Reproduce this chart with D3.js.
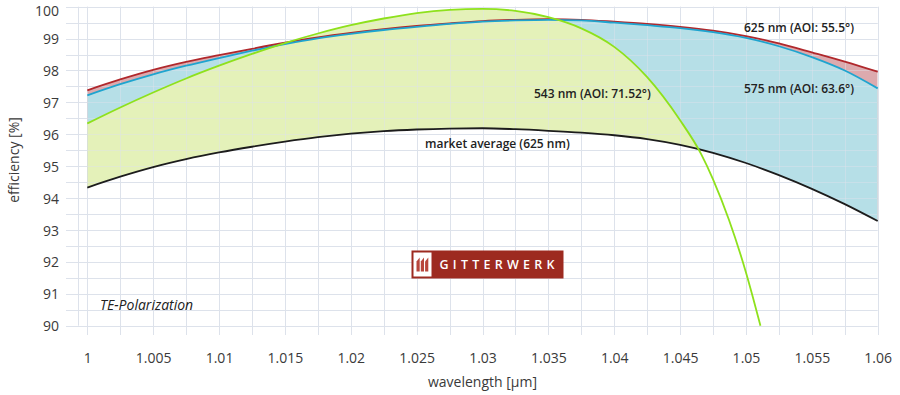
<!DOCTYPE html>
<html>
<head>
<meta charset="utf-8">
<script src="https://cdn.jsdelivr.net/npm/d3@7"></script>
<style>
  body { margin: 0; background: #fff; }
  text { font-family: "Open Sans", "Noto Sans", sans-serif; }
</style>
</head>
<body>
<div id="chart"></div>
<script>
// wavelengths in µm, every 0.0025
var wavelengths = [1.0, 1.0025, 1.005, 1.0075, 1.01, 1.0125, 1.015, 1.0175, 1.02, 1.0225, 1.025, 1.0275, 1.03,
    1.0325, 1.035, 1.0375, 1.04, 1.0425, 1.045, 1.0475, 1.05, 1.0525, 1.055, 1.0575, 1.06]
var red625 = [97.38, 97.72, 98.02, 98.27, 98.48, 98.68, 98.87, 99.04, 99.18, 99.30, 99.40, 99.48, 99.55,
    99.59, 99.61, 99.59, 99.53, 99.46, 99.37, 99.25, 99.08, 98.85, 98.57, 98.28, 97.96]
var blue575 = [97.22, 97.57, 97.88, 98.15, 98.39, 98.62, 98.83, 99.01, 99.15, 99.27, 99.37, 99.46, 99.53,
    99.57, 99.59, 99.57, 99.50, 99.42, 99.33, 99.20, 99.02, 98.76, 98.42, 98.00, 97.44]
var market = [94.33, 94.67, 94.97, 95.22, 95.43, 95.61, 95.77, 95.91, 96.02, 96.10, 96.15, 96.18, 96.19,
    96.16, 96.11, 96.05, 95.97, 95.85, 95.67, 95.42, 95.10, 94.72, 94.29, 93.81, 93.28]

var greenWavelengths = [1.0, 1.0025, 1.005, 1.0075, 1.01, 1.0125, 1.015, 1.0175, 1.02, 1.0225, 1.025, 1.0275, 1.03,
    1.0325, 1.035, 1.0375, 1.04, 1.0425, 1.045, 1.0466, 1.0475, 1.0487, 1.05, 1.0511]
var green543 = [96.34, 96.84, 97.31, 97.75, 98.15, 98.52, 98.86, 99.16, 99.42, 99.63, 99.80, 99.90, 99.93,
    99.87, 99.67, 99.32, 98.74, 97.79, 96.44, 95.38, 94.59, 93.33, 91.67, 90.0]

var xTicks = d3.range(0, 13).map(i => 1 + i * 0.005)
var xGrid = d3.range(0, 25).map(i => 1 + i * 0.0025)
var yTicks = d3.range(90, 101)
var yGrid = d3.range(0, 21).map(i => 90 + i * 0.5)

var labels = [
    {text: "625 nm (AOI: 55.5°)", x: 744, y: 32},
    {text: "575 nm (AOI: 63.6°)", x: 744, y: 93},
    {text: "543 nm (AOI: 71.52°)", x: 534, y: 98},
    {text: "market average (625 nm)", x: 425, y: 148}
]

var width = 900, height = 395

var svg = d3.select("#chart").append("svg")
    .attr("width", width)
    .attr("height", height)

var x = d3.scaleLinear().domain([1, 1.06]).range([87.3, 877.7])
var y = d3.scaleLinear().domain([90, 100]).range([325.7, 6.7])

var redRows = wavelengths.map((w, i) => ({w: w, v: red625[i]}))
var blueRows = wavelengths.map((w, i) => ({w: w, v: blue575[i]}))
var marketRows = wavelengths.map((w, i) => ({w: w, v: market[i]}))
var greenRows = greenWavelengths.map((w, i) => ({w: w, v: green543[i]}))

var gridColor = "#dde2eb"

function drawGrid(g, opacity){
    g.selectAll(".hgrid")
        .data(yGrid)
        .enter().append("line")
        .attr("x1", 66)
        .attr("x2", x(1.06))
        .attr("y1", d => Math.round(y(d)) + 0.5)
        .attr("y2", d => Math.round(y(d)) + 0.5)
        .attr("stroke", gridColor)
        .attr("stroke-opacity", opacity)
    g.selectAll(".vgrid")
        .data(xGrid)
        .enter().append("line")
        .attr("x1", d => Math.round(x(d)) + 0.5)
        .attr("x2", d => Math.round(x(d)) + 0.5)
        .attr("y1", y(100))
        .attr("y2", 335)
        .attr("stroke", gridColor)
        .attr("stroke-opacity", opacity)
    g.append("line")
        .attr("x1", 78.5).attr("x2", 78.5)
        .attr("y1", y(100)).attr("y2", y(90))
        .attr("stroke", gridColor)
        .attr("stroke-opacity", opacity)
}

drawGrid(svg.append("g"), 1)

// only the part above the market average gets filled
svg.append("clipPath")
    .attr("id", "above-market")
    .append("path")
    .attr("d", d3.area()
        .x(d => x(d.w))
        .y0(d => y(d.v))
        .y1(0)
        .curve(d3.curveMonotoneX)(marketRows))

function bandArea(rows){
    return d3.area()
        .x(d => x(d.w))
        .y0(y(90))
        .y1(d => y(d.v))
        .curve(d3.curveMonotoneX)(rows)
}

var fills = svg.append("g").attr("clip-path", "url(#above-market)")
fills.append("path").attr("d", bandArea(redRows)).attr("fill", "#dcaaae")
fills.append("path").attr("d", bandArea(blueRows)).attr("fill", "#b6dfe7")
fills.append("path").attr("d", bandArea(greenRows)).attr("fill", "#e4f1b9")

// grid faintly through the fills
drawGrid(svg.append("g").attr("clip-path", "url(#above-market)"), 0.45)

var line = d3.line()
    .x(d => x(d.w))
    .y(d => y(d.v))
    .curve(d3.curveMonotoneX)

svg.append("path").attr("d", line(marketRows)).attr("fill", "none").attr("stroke", "#1c1c1c").attr("stroke-width", 1.8)
svg.append("path").attr("d", line(redRows)).attr("fill", "none").attr("stroke", "#b0282c").attr("stroke-width", 1.8)
svg.append("path").attr("d", line(blueRows)).attr("fill", "none").attr("stroke", "#1ea4cf").attr("stroke-width", 1.8)
svg.append("path").attr("d", line(greenRows)).attr("fill", "none").attr("stroke", "#8ee11c").attr("stroke-width", 1.8)

// axes (text only, grid does the rest)
var xAxis = svg.append("g")
    .attr("transform", "translate(0," + 350 + ")")
    .call(d3.axisBottom(x).tickValues(xTicks).tickSize(0).tickFormat(d => String(parseFloat(d.toFixed(3)))))
xAxis.select(".domain").remove()
xAxis.selectAll("text")
    .attr("font-size", 14)
    .attr("font-family", "'Open Sans', sans-serif")
    .attr("fill", "#3a3a3a")

var yAxis = svg.append("g")
    .attr("transform", "translate(" + 62 + ",0)")
    .call(d3.axisLeft(y).tickValues(yTicks).tickSize(0).tickFormat(d3.format("d")))
yAxis.select(".domain").remove()
yAxis.selectAll("text")
    .attr("font-size", 14)
    .attr("dy", d => d == 100 ? "0.6em" : "0.36em")  // keep the top label inside the picture
    .attr("font-family", "'Open Sans', sans-serif")
    .attr("fill", "#3a3a3a")

svg.append("text")
    .attr("x", (x(1) + x(1.06)) / 2)
    .attr("y", 387)
    .attr("text-anchor", "middle")
    .attr("font-size", 14)
    .attr("fill", "#3a3a3a")
    .text("wavelength [μm]")

svg.append("text")
    .attr("transform", "translate(19,160) rotate(-90)")
    .attr("text-anchor", "middle")
    .attr("font-size", 14)
    .attr("fill", "#3a3a3a")
    .text("efficiency [%]")

svg.append("text")
    .attr("x", 100)
    .attr("y", 310)
    .attr("font-size", 14)
    .attr("font-style", "italic")
    .attr("fill", "#222")
    .text("TE-Polarization")

svg.selectAll(".curve-label")
    .data(labels)
    .enter().append("text")
    .attr("class", "curve-label")
    .attr("x", d => d.x)
    .attr("y", d => d.y)
    .attr("font-size", 12)
    .attr("font-weight", 600)
    .attr("fill", "#222")
    .text(d => d.text)

// logo
var logo = svg.append("g").attr("transform", "translate(411.5,250.5)")
logo.append("rect").attr("width", 152).attr("height", 28).attr("fill", "#9d2a20")
logo.append("rect").attr("x", 2).attr("y", 2).attr("width", 18).attr("height", 24).attr("fill", "#fff")
logo.selectAll(".chimney")
    .data([0, 1, 2])
    .enter().append("path")
    .attr("class", "chimney")
    .attr("d", d => {
        var ox = 5 + d * 4.3
        return "M" + ox + ",21 L" + ox + ",11 L" + (ox + 3.2) + ",7 L" + (ox + 3.2) + ",21 Z"
    })
    .attr("fill", "#b8463c")
logo.append("text")
    .attr("x", 28)
    .attr("y", 18.5)
    .attr("font-size", 12.5)
    .attr("font-weight", 600)
    .attr("fill", "#fff")
    .attr("textLength", 115)
    .attr("lengthAdjust", "spacing")
    .text("GITTERWERK")
</script>
</body>
</html>
